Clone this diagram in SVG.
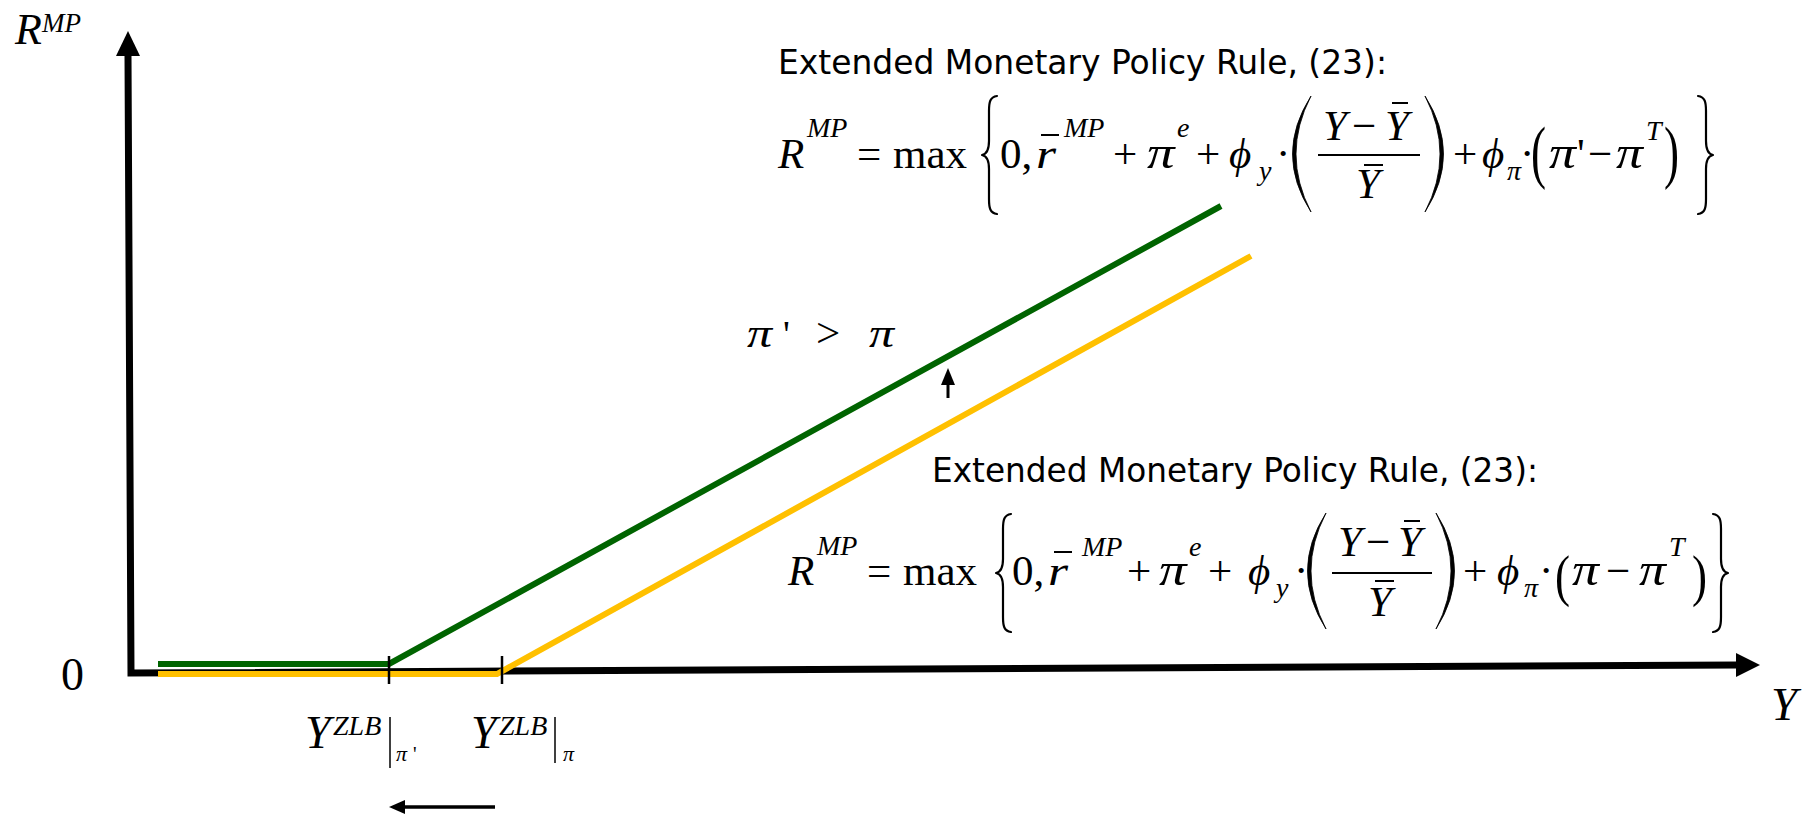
<svg xmlns="http://www.w3.org/2000/svg" width="1808" height="815" viewBox="0 0 1808 815">
<style>
.m{font-family:"Liberation Serif","Times New Roman",serif;font-size:43px;fill:#000}
.mi{font-family:"Liberation Serif","Times New Roman",serif;font-size:43px;font-style:italic;fill:#000}
.s{font-family:"Liberation Serif","Times New Roman",serif;font-size:28px;font-style:italic;fill:#000}
.d{font-family:"Liberation Serif","Times New Roman",serif;font-size:41px;fill:#000}
.ttl{font-family:"DejaVu Sans Condensed","DejaVu Sans",sans-serif;font-size:34px;fill:#000}
.ax{fill:none;stroke:#000;stroke-width:7;stroke-linejoin:miter}
.tk{stroke:#000;stroke-width:2.5}
.ln{stroke:#000;stroke-width:2}
.br{fill:none;stroke:#000;stroke-width:2.2;stroke-linecap:round;stroke-linejoin:round}
.pr{fill:#000;stroke:#000;stroke-width:0.8;stroke-linejoin:round}
.g{fill:none;stroke:#006400;stroke-width:6}
.y{fill:none;stroke:#FFC000;stroke-width:6}
</style>
<rect width="1808" height="815" fill="#fff"/>

<g id="axes">
<polyline class="ax" points="128,56 131,673 1738,665"/>
<polygon points="128,31 116,56 140,56" fill="#000"/>
<polygon points="1760,665 1736,653 1736,677" fill="#000"/>
<text class="mi" x="15" y="44" style="font-size:44px">R</text>
<text class="s" x="42" y="32" style="font-size:27px">MP</text>
<text class="m" x="61" y="690" style="font-size:46px">0</text>
<text class="mi" x="1771" y="720" style="font-size:47px">Y</text>
</g>

<g id="curves">
<polyline class="y" points="158,674 497,674 1251,256"/>
<polyline class="g" points="158,664 389,664 1221,206"/>
<line class="tk" x1="389" y1="656" x2="389" y2="684"/>
<line class="tk" x1="502" y1="656" x2="502" y2="684"/>
</g>

<g id="shift-arrows">
<line x1="948" y1="398" x2="948" y2="382" stroke="#000" stroke-width="3"/>
<polygon points="948,368 941,385 955,385" fill="#000"/>
<line x1="495" y1="807" x2="402" y2="807" stroke="#000" stroke-width="3.5"/>
<polygon points="389,807 405,800 405,814" fill="#000"/>
</g>

<g id="label-pi">
<text class="mi" transform="translate(747,347) scale(1.25,1)" style="font-size:40px">π</text>
<text class="m" x="783" y="347" style="font-size:38px">'</text>
<text class="m" x="816" y="347">&gt;</text>
<text class="mi" transform="translate(869,347) scale(1.25,1)" style="font-size:40px">π</text>
</g>

<g id="label-yzlb">
<text class="mi" x="305" y="748" style="font-size:46px">Y</text>
<text class="s" x="333" y="735">ZLB</text>
<line class="ln" x1="390" y1="717" x2="390" y2="768" style="stroke-width:1.5"/>
<text class="s" x="396" y="761" style="font-size:22px">π</text>
<text class="m" x="413" y="761" style="font-size:20px">'</text>
<text class="mi" x="471" y="748" style="font-size:46px">Y</text>
<text class="s" x="499" y="735">ZLB</text>
<line class="ln" x1="555" y1="717" x2="555" y2="763" style="stroke-width:1.5"/>
<text class="s" x="563" y="761" style="font-size:22px">π</text>
</g>

<g id="rule-new">
<text class="ttl" x="778" y="74" textLength="609" lengthAdjust="spacingAndGlyphs">Extended Monetary Policy Rule, (23):</text>
<text class="mi" x="778" y="168">R</text>
<text class="s" x="807" y="137">MP</text>
<text class="m" x="857" y="168">=</text>
<text class="m" x="893" y="168">max</text>
<path class="br" d="M997,96 C990,97 989,102 989,111 L989,141 C989,150 987,154 982,155 C987,156 989,160 989,169 L989,199 C989,208 990,213 997,214"/>
<text class="m" x="1000" y="168">0,</text>
<text class="mi" transform="translate(1036,168) scale(1.2,1)">r</text>
<line class="ln" x1="1041" y1="135" x2="1059" y2="135"/>
<text class="s" x="1064" y="137">MP</text>
<text class="m" x="1113" y="168">+</text>
<text class="mi" transform="translate(1147,168) scale(1.25,1.06)" style="font-size:44px">π</text>
<text class="s" x="1177" y="137">e</text>
<text class="m" x="1196" y="168">+</text>
<text class="mi" x="1229" y="168">ϕ</text>
<text class="s" x="1259" y="180">y</text>
<text class="m" x="1276" y="168">·</text>
<path class="pr" d="M1311,96 Q1274,154 1311,212 Q1281,154 1311,96 Z"/>
<text class="mi" x="1323" y="140">Y</text>
<text class="m" x="1352" y="140">−</text>
<text class="mi" x="1385" y="140">Y</text>
<line class="ln" x1="1392" y1="103" x2="1408" y2="103"/>
<line class="ln" x1="1318" y1="155" x2="1420" y2="155"/>
<text class="mi" x="1356" y="198">Y</text>
<line class="ln" x1="1364" y1="165" x2="1383" y2="165"/>
<path class="pr" d="M1425,96 Q1462,154 1425,212 Q1455,154 1425,96 Z"/>
<text class="m" x="1453" y="168">+</text>
<text class="mi" x="1482" y="168">ϕ</text>
<text class="s" x="1507" y="180">π</text>
<text class="m" x="1520" y="168">·</text>
<text class="d" transform="translate(1531,174.7) scale(1.1,1.69)">(</text>
<text class="mi" transform="translate(1549,168) scale(1.22,1.05)" style="font-size:44px">π</text>
<text class="m" x="1577" y="168">'</text>
<text class="m" x="1588" y="168">−</text>
<text class="mi" transform="translate(1616,168) scale(1.22,1.05)" style="font-size:44px">π</text>
<text class="s" x="1646" y="140">T</text>
<text class="d" transform="translate(1664,174.7) scale(1.1,1.69)">)</text>
<path class="br" d="M1698,96 C1705,97 1706,102 1706,111 L1706,141 C1706,150 1708,154 1713,155 C1708,156 1706,160 1706,169 L1706,199 C1706,208 1705,213 1698,214"/>
</g>

<g id="rule-base">
<text class="ttl" x="932" y="482" textLength="606" lengthAdjust="spacingAndGlyphs">Extended Monetary Policy Rule, (23):</text>
<text class="mi" x="788" y="585">R</text>
<text class="s" x="817" y="555">MP</text>
<text class="m" x="867" y="585">=</text>
<text class="m" x="903" y="585">max</text>
<path class="br" d="M1011,514 C1004,515 1003,520 1003,529 L1003,559 C1003,568 1001,572 996,573 C1001,574 1003,578 1003,587 L1003,617 C1003,626 1004,631 1011,632"/>
<text class="m" x="1012" y="585">0,</text>
<text class="mi" transform="translate(1048,585) scale(1.2,1)">r</text>
<line class="ln" x1="1054" y1="552" x2="1072" y2="552"/>
<text class="s" x="1082" y="556">MP</text>
<text class="m" x="1127" y="585">+</text>
<text class="mi" transform="translate(1159,585) scale(1.25,1.06)" style="font-size:44px">π</text>
<text class="s" x="1189" y="556">e</text>
<text class="m" x="1208" y="585">+</text>
<text class="mi" x="1248" y="585">ϕ</text>
<text class="s" x="1276" y="597">y</text>
<text class="m" x="1294" y="585">·</text>
<path class="pr" d="M1326,513 Q1289,571 1326,629 Q1296,571 1326,513 Z"/>
<text class="mi" x="1338" y="556">Y</text>
<text class="m" x="1366" y="556">−</text>
<text class="mi" x="1398" y="556">Y</text>
<line class="ln" x1="1404" y1="521" x2="1420" y2="521"/>
<line class="ln" x1="1332" y1="573" x2="1432" y2="573"/>
<text class="mi" x="1368" y="616">Y</text>
<line class="ln" x1="1375" y1="581" x2="1394" y2="581"/>
<path class="pr" d="M1436,513 Q1473,571 1436,629 Q1466,571 1436,513 Z"/>
<text class="m" x="1463" y="585">+</text>
<text class="mi" x="1497" y="585">ϕ</text>
<text class="s" x="1524" y="597">π</text>
<text class="m" x="1539" y="585">·</text>
<text class="d" transform="translate(1555,595) scale(1.1,1.37)">(</text>
<text class="mi" transform="translate(1572,585) scale(1.22,1.05)" style="font-size:44px">π</text>
<text class="m" x="1606" y="585">−</text>
<text class="mi" transform="translate(1639,585) scale(1.22,1.05)" style="font-size:44px">π</text>
<text class="s" x="1669" y="556">T</text>
<text class="d" transform="translate(1692,595) scale(1.1,1.37)">)</text>
<path class="br" d="M1713,514 C1720,515 1721,520 1721,529 L1721,559 C1721,568 1723,572 1728,573 C1723,574 1721,578 1721,587 L1721,617 C1721,626 1720,631 1713,632"/>
</g>
</svg>
